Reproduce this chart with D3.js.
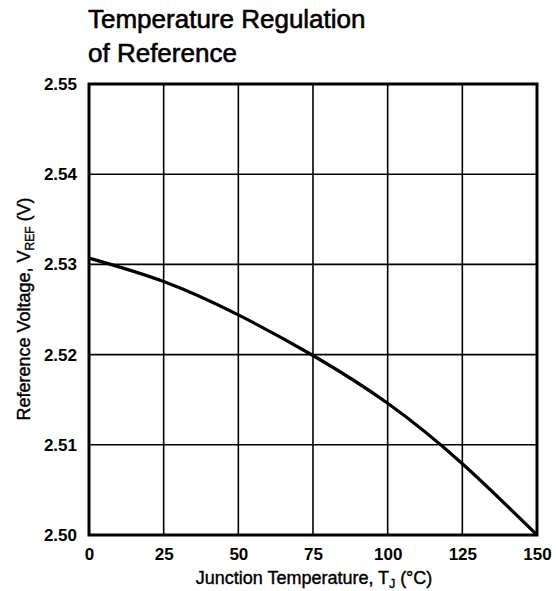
<!DOCTYPE html>
<html><head><meta charset="utf-8">
<script src="https://cdn.jsdelivr.net/npm/d3@7"></script>
<style>
body{margin:0;background:#fff;}
text{font-family:"Liberation Sans",Arial,Helvetica,sans-serif;fill:#000;}
</style></head>
<body><svg id="c" width="556" height="591"></svg>
<script>
const temps = [0, 25, 50, 75, 100, 125, 150];
const vref = [2.5307, 2.5281, 2.5244, 2.5199, 2.5146, 2.5079, 2.5000];
const xTicks = [0, 25, 50, 75, 100, 125, 150];
const yTicks = [2.50, 2.51, 2.52, 2.53, 2.54, 2.55];
const titleLines = ["Temperature Regulation", "of Reference"];

const svg = d3.select("#c");
const m = {l: 89, r: 537, t: 84, b: 535};
const x = d3.scaleLinear().domain([0,150]).range([m.l, m.r]);
const y = d3.scaleLinear().domain([2.50,2.55]).range([m.b, m.t]);

// grid
svg.append("g").selectAll("line").data(xTicks).join("line")
  .attr("x1", d=>x(d)).attr("x2", d=>x(d)).attr("y1", m.t).attr("y2", m.b)
  .attr("stroke","#000").attr("stroke-width",1.6);
svg.append("g").selectAll("line").data(yTicks).join("line")
  .attr("y1", d=>y(d)).attr("y2", d=>y(d)).attr("x1", m.l).attr("x2", m.r)
  .attr("stroke","#000").attr("stroke-width",1.6);

// frame
svg.append("rect").attr("x", m.l).attr("y", m.t).attr("width", m.r-m.l).attr("height", m.b-m.t)
  .attr("fill","none").attr("stroke","#000").attr("stroke-width",3);

// curve
const data = temps.map((t,i)=>({t, v: vref[i]}));
svg.append("path").datum(data)
  .attr("d", d3.line().x(d=>x(d.t)).y(d=>y(d.v)).curve(d3.curveNatural))
  .attr("fill","none").attr("stroke","#000").attr("stroke-width",3.2);

// axes via d3 axis (labels only)
const xAxis = svg.append("g").attr("transform", `translate(0,${m.b})`)
  .call(d3.axisBottom(x).tickValues(xTicks).tickSize(0).tickPadding(13).tickFormat(d3.format("d")));
xAxis.select(".domain").remove();
xAxis.selectAll("text").style("font-size","17px").style("font-weight","bold").attr("fill","#000");

const yAxis = svg.append("g").attr("transform", `translate(${m.l},0)`)
  .call(d3.axisLeft(y).tickValues(yTicks).tickSize(0).tickPadding(12).tickFormat(d3.format(".2f")));
yAxis.select(".domain").remove();
yAxis.selectAll("text").style("font-size","17px").style("font-weight","bold").attr("fill","#000");

// title
svg.append("g").selectAll("text").data(titleLines).join("text")
  .attr("x", 88).attr("y", (d,i)=>28 + i*34)
  .style("font-size","26px").attr("stroke","#000").attr("stroke-width",0.6).text(d=>d);

// x axis title
const xt = svg.append("text").attr("x", 314).attr("y", 584)
  .attr("text-anchor","middle").style("font-size","18px").attr("stroke","#000").attr("stroke-width",0.4);
xt.append("tspan").text("Junction Temperature, T");
xt.append("tspan").attr("dy",4).style("font-size","12px").text("J");
xt.append("tspan").attr("dy",-4).text(" (°C)");

// y axis title
const yt = svg.append("text").attr("transform", `translate(30,309) rotate(-90)`)
  .attr("text-anchor","middle").style("font-size","18px").attr("stroke","#000").attr("stroke-width",0.4);
yt.append("tspan").text("Reference Voltage, V");
yt.append("tspan").attr("dy",4).style("font-size","12px").text("REF");
yt.append("tspan").attr("dy",-4).text(" (V)");
</script></body></html>
